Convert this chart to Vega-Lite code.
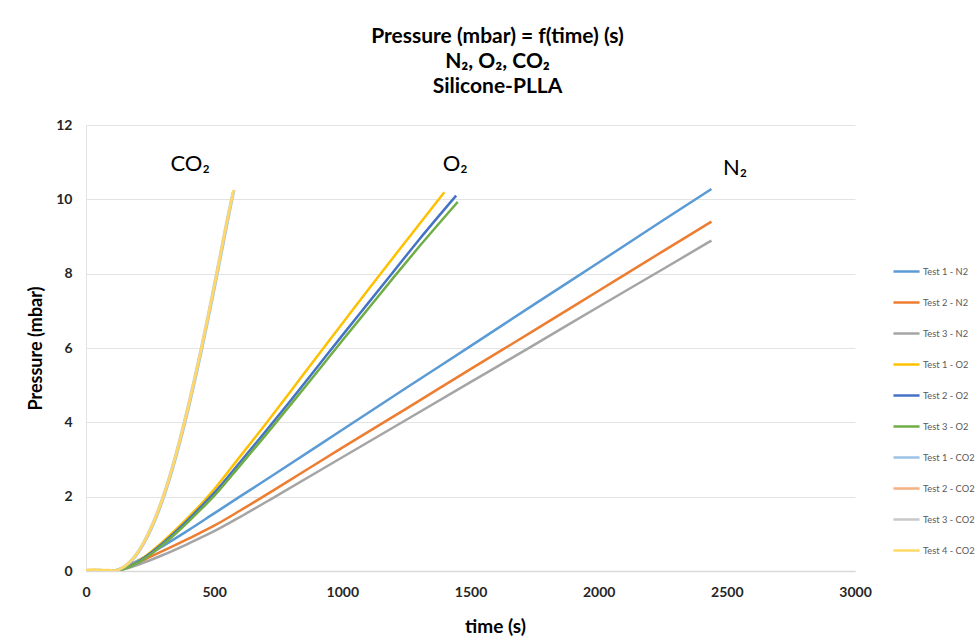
{
  "$schema": "https://vega.github.io/schema/vega-lite/v6.json",
  "width": 769,
  "height": 446,
  "autosize": {"type": "none"},
  "padding": {"left": 86, "top": 125, "right": 124, "bottom": 73},
  "background": "white",
  "config": {
    "font": "Lato",
    "view": {"stroke": null}
  },
  "title": {
    "text": ["Pressure (mbar) = f(time) (s)", "N₂, O₂, CO₂", "Silicone-PLLA"],
    "fontSize": 21,
    "fontWeight": "bold",
    "font": "Lato",
    "color": "#000000",
    "lineHeight": 25,
    "anchor": "middle",
    "dx": 27,
    "offset": 21
  },
  "datasets": {
    "curves": [
      {"s": "Test 1 - N2", "t": 0, "p": 0.01}, {"s": "Test 1 - N2", "t": 100, "p": 0.0}, {"s": "Test 1 - N2", "t": 150, "p": 0.11}, {"s": "Test 1 - N2", "t": 200, "p": 0.27}, {"s": "Test 1 - N2", "t": 250, "p": 0.46}, {"s": "Test 1 - N2", "t": 300, "p": 0.67}, {"s": "Test 1 - N2", "t": 400, "p": 1.1}, {"s": "Test 1 - N2", "t": 500, "p": 1.55}, {"s": "Test 1 - N2", "t": 600, "p": 2.0}, {"s": "Test 1 - N2", "t": 750, "p": 2.67}, {"s": "Test 1 - N2", "t": 1000, "p": 3.8}, {"s": "Test 1 - N2", "t": 1250, "p": 4.93}, {"s": "Test 1 - N2", "t": 1500, "p": 6.05}, {"s": "Test 1 - N2", "t": 1750, "p": 7.18}, {"s": "Test 1 - N2", "t": 2000, "p": 8.3}, {"s": "Test 1 - N2", "t": 2250, "p": 9.43}, {"s": "Test 1 - N2", "t": 2440, "p": 10.28},
      {"s": "Test 2 - N2", "t": 0, "p": 0.0}, {"s": "Test 2 - N2", "t": 100, "p": 0.0}, {"s": "Test 2 - N2", "t": 150, "p": 0.07}, {"s": "Test 2 - N2", "t": 200, "p": 0.21}, {"s": "Test 2 - N2", "t": 250, "p": 0.38}, {"s": "Test 2 - N2", "t": 300, "p": 0.54}, {"s": "Test 2 - N2", "t": 400, "p": 0.87}, {"s": "Test 2 - N2", "t": 500, "p": 1.22}, {"s": "Test 2 - N2", "t": 600, "p": 1.62}, {"s": "Test 2 - N2", "t": 750, "p": 2.25}, {"s": "Test 2 - N2", "t": 1000, "p": 3.32}, {"s": "Test 2 - N2", "t": 1250, "p": 4.37}, {"s": "Test 2 - N2", "t": 1500, "p": 5.43}, {"s": "Test 2 - N2", "t": 1750, "p": 6.48}, {"s": "Test 2 - N2", "t": 2000, "p": 7.54}, {"s": "Test 2 - N2", "t": 2250, "p": 8.6}, {"s": "Test 2 - N2", "t": 2440, "p": 9.4},
      {"s": "Test 3 - N2", "t": 0, "p": 0.0}, {"s": "Test 3 - N2", "t": 110, "p": 0.0}, {"s": "Test 3 - N2", "t": 150, "p": 0.05}, {"s": "Test 3 - N2", "t": 200, "p": 0.16}, {"s": "Test 3 - N2", "t": 250, "p": 0.29}, {"s": "Test 3 - N2", "t": 300, "p": 0.43}, {"s": "Test 3 - N2", "t": 400, "p": 0.74}, {"s": "Test 3 - N2", "t": 500, "p": 1.07}, {"s": "Test 3 - N2", "t": 600, "p": 1.45}, {"s": "Test 3 - N2", "t": 750, "p": 2.05}, {"s": "Test 3 - N2", "t": 1000, "p": 3.06}, {"s": "Test 3 - N2", "t": 1250, "p": 4.07}, {"s": "Test 3 - N2", "t": 1500, "p": 5.08}, {"s": "Test 3 - N2", "t": 1750, "p": 6.09}, {"s": "Test 3 - N2", "t": 2000, "p": 7.11}, {"s": "Test 3 - N2", "t": 2250, "p": 8.12}, {"s": "Test 3 - N2", "t": 2440, "p": 8.89},
      {"s": "Test 1 - O2", "t": 0, "p": 0.02}, {"s": "Test 1 - O2", "t": 60, "p": 0.03}, {"s": "Test 1 - O2", "t": 100, "p": 0.0}, {"s": "Test 1 - O2", "t": 150, "p": 0.08}, {"s": "Test 1 - O2", "t": 200, "p": 0.25}, {"s": "Test 1 - O2", "t": 250, "p": 0.5}, {"s": "Test 1 - O2", "t": 300, "p": 0.79}, {"s": "Test 1 - O2", "t": 350, "p": 1.11}, {"s": "Test 1 - O2", "t": 400, "p": 1.45}, {"s": "Test 1 - O2", "t": 450, "p": 1.81}, {"s": "Test 1 - O2", "t": 500, "p": 2.2}, {"s": "Test 1 - O2", "t": 600, "p": 3.07}, {"s": "Test 1 - O2", "t": 700, "p": 3.95}, {"s": "Test 1 - O2", "t": 800, "p": 4.85}, {"s": "Test 1 - O2", "t": 900, "p": 5.76}, {"s": "Test 1 - O2", "t": 1000, "p": 6.66}, {"s": "Test 1 - O2", "t": 1100, "p": 7.56}, {"s": "Test 1 - O2", "t": 1200, "p": 8.45}, {"s": "Test 1 - O2", "t": 1300, "p": 9.33}, {"s": "Test 1 - O2", "t": 1398, "p": 10.19},
      {"s": "Test 2 - O2", "t": 0, "p": 0.02}, {"s": "Test 2 - O2", "t": 100, "p": 0.0}, {"s": "Test 2 - O2", "t": 150, "p": 0.07}, {"s": "Test 2 - O2", "t": 200, "p": 0.23}, {"s": "Test 2 - O2", "t": 250, "p": 0.47}, {"s": "Test 2 - O2", "t": 300, "p": 0.75}, {"s": "Test 2 - O2", "t": 350, "p": 1.06}, {"s": "Test 2 - O2", "t": 400, "p": 1.39}, {"s": "Test 2 - O2", "t": 450, "p": 1.74}, {"s": "Test 2 - O2", "t": 500, "p": 2.1}, {"s": "Test 2 - O2", "t": 600, "p": 2.92}, {"s": "Test 2 - O2", "t": 700, "p": 3.75}, {"s": "Test 2 - O2", "t": 800, "p": 4.6}, {"s": "Test 2 - O2", "t": 900, "p": 5.47}, {"s": "Test 2 - O2", "t": 1000, "p": 6.34}, {"s": "Test 2 - O2", "t": 1100, "p": 7.2}, {"s": "Test 2 - O2", "t": 1200, "p": 8.06}, {"s": "Test 2 - O2", "t": 1300, "p": 8.92}, {"s": "Test 2 - O2", "t": 1444, "p": 10.1},
      {"s": "Test 3 - O2", "t": 0, "p": 0.0}, {"s": "Test 3 - O2", "t": 110, "p": 0.0}, {"s": "Test 3 - O2", "t": 150, "p": 0.06}, {"s": "Test 3 - O2", "t": 200, "p": 0.21}, {"s": "Test 3 - O2", "t": 250, "p": 0.44}, {"s": "Test 3 - O2", "t": 300, "p": 0.71}, {"s": "Test 3 - O2", "t": 350, "p": 1.01}, {"s": "Test 3 - O2", "t": 400, "p": 1.33}, {"s": "Test 3 - O2", "t": 450, "p": 1.67}, {"s": "Test 3 - O2", "t": 500, "p": 2.02}, {"s": "Test 3 - O2", "t": 600, "p": 2.83}, {"s": "Test 3 - O2", "t": 700, "p": 3.65}, {"s": "Test 3 - O2", "t": 800, "p": 4.49}, {"s": "Test 3 - O2", "t": 900, "p": 5.34}, {"s": "Test 3 - O2", "t": 1000, "p": 6.2}, {"s": "Test 3 - O2", "t": 1100, "p": 7.05}, {"s": "Test 3 - O2", "t": 1200, "p": 7.9}, {"s": "Test 3 - O2", "t": 1300, "p": 8.73}, {"s": "Test 3 - O2", "t": 1450, "p": 9.93},
      {"s": "Test 1 - CO2", "t": 0, "p": 0.02}, {"s": "Test 1 - CO2", "t": 40, "p": 0.03}, {"s": "Test 1 - CO2", "t": 80, "p": 0.02}, {"s": "Test 1 - CO2", "t": 108, "p": 0.01}, {"s": "Test 1 - CO2", "t": 153, "p": 0.12}, {"s": "Test 1 - CO2", "t": 178, "p": 0.27}, {"s": "Test 1 - CO2", "t": 203, "p": 0.48}, {"s": "Test 1 - CO2", "t": 228, "p": 0.76}, {"s": "Test 1 - CO2", "t": 253, "p": 1.1}, {"s": "Test 1 - CO2", "t": 278, "p": 1.5}, {"s": "Test 1 - CO2", "t": 303, "p": 1.97}, {"s": "Test 1 - CO2", "t": 328, "p": 2.5}, {"s": "Test 1 - CO2", "t": 353, "p": 3.1}, {"s": "Test 1 - CO2", "t": 378, "p": 3.75}, {"s": "Test 1 - CO2", "t": 403, "p": 4.45}, {"s": "Test 1 - CO2", "t": 428, "p": 5.2}, {"s": "Test 1 - CO2", "t": 453, "p": 5.98}, {"s": "Test 1 - CO2", "t": 478, "p": 6.8}, {"s": "Test 1 - CO2", "t": 503, "p": 7.65}, {"s": "Test 1 - CO2", "t": 528, "p": 8.52}, {"s": "Test 1 - CO2", "t": 553, "p": 9.4}, {"s": "Test 1 - CO2", "t": 578, "p": 10.25},
      {"s": "Test 2 - CO2", "t": 0, "p": 0.03}, {"s": "Test 2 - CO2", "t": 50, "p": 0.02}, {"s": "Test 2 - CO2", "t": 105, "p": 0.01}, {"s": "Test 2 - CO2", "t": 150, "p": 0.12}, {"s": "Test 2 - CO2", "t": 175, "p": 0.27}, {"s": "Test 2 - CO2", "t": 200, "p": 0.48}, {"s": "Test 2 - CO2", "t": 225, "p": 0.76}, {"s": "Test 2 - CO2", "t": 250, "p": 1.1}, {"s": "Test 2 - CO2", "t": 275, "p": 1.5}, {"s": "Test 2 - CO2", "t": 300, "p": 1.97}, {"s": "Test 2 - CO2", "t": 325, "p": 2.5}, {"s": "Test 2 - CO2", "t": 350, "p": 3.1}, {"s": "Test 2 - CO2", "t": 375, "p": 3.75}, {"s": "Test 2 - CO2", "t": 400, "p": 4.45}, {"s": "Test 2 - CO2", "t": 425, "p": 5.2}, {"s": "Test 2 - CO2", "t": 450, "p": 5.98}, {"s": "Test 2 - CO2", "t": 475, "p": 6.8}, {"s": "Test 2 - CO2", "t": 500, "p": 7.65}, {"s": "Test 2 - CO2", "t": 525, "p": 8.52}, {"s": "Test 2 - CO2", "t": 550, "p": 9.4}, {"s": "Test 2 - CO2", "t": 575, "p": 10.22},
      {"s": "Test 3 - CO2", "t": 0, "p": 0.01}, {"s": "Test 3 - CO2", "t": 45, "p": 0.03}, {"s": "Test 3 - CO2", "t": 103, "p": 0.01}, {"s": "Test 3 - CO2", "t": 148, "p": 0.12}, {"s": "Test 3 - CO2", "t": 173, "p": 0.27}, {"s": "Test 3 - CO2", "t": 198, "p": 0.48}, {"s": "Test 3 - CO2", "t": 223, "p": 0.76}, {"s": "Test 3 - CO2", "t": 248, "p": 1.1}, {"s": "Test 3 - CO2", "t": 273, "p": 1.5}, {"s": "Test 3 - CO2", "t": 298, "p": 1.97}, {"s": "Test 3 - CO2", "t": 323, "p": 2.5}, {"s": "Test 3 - CO2", "t": 348, "p": 3.1}, {"s": "Test 3 - CO2", "t": 373, "p": 3.75}, {"s": "Test 3 - CO2", "t": 398, "p": 4.45}, {"s": "Test 3 - CO2", "t": 423, "p": 5.2}, {"s": "Test 3 - CO2", "t": 448, "p": 5.98}, {"s": "Test 3 - CO2", "t": 473, "p": 6.8}, {"s": "Test 3 - CO2", "t": 498, "p": 7.65}, {"s": "Test 3 - CO2", "t": 523, "p": 8.52}, {"s": "Test 3 - CO2", "t": 548, "p": 9.4}, {"s": "Test 3 - CO2", "t": 573, "p": 10.2},
      {"s": "Test 4 - CO2", "t": 0, "p": 0.02}, {"s": "Test 4 - CO2", "t": 30, "p": 0.04}, {"s": "Test 4 - CO2", "t": 60, "p": 0.02}, {"s": "Test 4 - CO2", "t": 90, "p": 0.03}, {"s": "Test 4 - CO2", "t": 105, "p": 0.01}, {"s": "Test 4 - CO2", "t": 150, "p": 0.12}, {"s": "Test 4 - CO2", "t": 175, "p": 0.27}, {"s": "Test 4 - CO2", "t": 200, "p": 0.48}, {"s": "Test 4 - CO2", "t": 225, "p": 0.76}, {"s": "Test 4 - CO2", "t": 250, "p": 1.1}, {"s": "Test 4 - CO2", "t": 275, "p": 1.5}, {"s": "Test 4 - CO2", "t": 300, "p": 1.97}, {"s": "Test 4 - CO2", "t": 325, "p": 2.5}, {"s": "Test 4 - CO2", "t": 350, "p": 3.1}, {"s": "Test 4 - CO2", "t": 375, "p": 3.75}, {"s": "Test 4 - CO2", "t": 400, "p": 4.45}, {"s": "Test 4 - CO2", "t": 425, "p": 5.2}, {"s": "Test 4 - CO2", "t": 450, "p": 5.98}, {"s": "Test 4 - CO2", "t": 475, "p": 6.8}, {"s": "Test 4 - CO2", "t": 500, "p": 7.65}, {"s": "Test 4 - CO2", "t": 525, "p": 8.52}, {"s": "Test 4 - CO2", "t": 550, "p": 9.4}, {"s": "Test 4 - CO2", "t": 576, "p": 10.25}
    ],
    "labels": [
      {"label": "CO₂", "t": 406, "p": 10.96},
      {"label": "O₂", "t": 1440, "p": 10.96},
      {"label": "N₂", "t": 2532, "p": 10.83}
    ]
  },
  "layer": [
    {
      "data": {"name": "curves"},
      "mark": {"type": "line", "strokeWidth": 2.5, "interpolate": "monotone", "clip": true},
      "encoding": {
        "x": {
          "field": "t", "type": "quantitative",
          "scale": {"domain": [0, 3000], "nice": false},
          "axis": {
            "title": "time (s)", "values": [0, 500, 1000, 1500, 2000, 2500, 3000], "format": "d",
            "grid": false, "ticks": false, "domainColor": "#D9D9D9", "domainWidth": 1.5,
            "labelFont": "Lato", "labelFontSize": 14, "labelFontWeight": "bold", "labelColor": "#262626",
            "labelPadding": 14, "labelFlush": false,
            "titleFont": "Lato", "titleFontSize": 19, "titleFontWeight": "bold", "titleColor": "#000000",
            "titlePadding": 18, "titleX": 409
          }
        },
        "y": {
          "field": "p", "type": "quantitative",
          "scale": {"domain": [0, 12], "nice": false},
          "axis": {
            "title": "Pressure (mbar)", "values": [0, 2, 4, 6, 8, 10, 12],
            "grid": true, "gridColor": "#E3E3E3", "gridWidth": 1.2, "ticks": false,
            "domainColor": "#E3E3E3",
            "labelFont": "Lato", "labelFontSize": 14, "labelFontWeight": "bold", "labelColor": "#262626",
            "labelPadding": 14,
            "titleFont": "Lato", "titleFontSize": 18, "titleFontWeight": "bold", "titleColor": "#000000",
            "titlePadding": 10
          }
        },
        "color": {
          "field": "s", "type": "nominal",
          "scale": {
            "domain": ["Test 1 - N2", "Test 2 - N2", "Test 3 - N2", "Test 1 - O2", "Test 2 - O2", "Test 3 - O2", "Test 1 - CO2", "Test 2 - CO2", "Test 3 - CO2", "Test 4 - CO2"],
            "range": ["#5B9BD5", "#ED7D31", "#A5A5A5", "#FFC000", "#4472C4", "#70AD47", "#9DC3E6", "#F4B183", "#C9C9C9", "#FFD966"]
          },
          "legend": {
            "title": null, "orient": "none", "legendX": 806, "legendY": 132,
            "symbolType": "stroke", "symbolSize": 680, "symbolStrokeWidth": 2.5,
            "labelFont": "Lato", "labelFontSize": 9.3, "labelColor": "#595959", "labelOffset": 2,
            "rowPadding": 11
          }
        }
      }
    },
    {
      "data": {"name": "labels"},
      "mark": {"type": "text", "font": "Lato", "fontSize": 22, "color": "#000000", "align": "center", "baseline": "middle"},
      "encoding": {
        "x": {"field": "t", "type": "quantitative"},
        "y": {"field": "p", "type": "quantitative"},
        "text": {"field": "label"}
      }
    }
  ]
}
